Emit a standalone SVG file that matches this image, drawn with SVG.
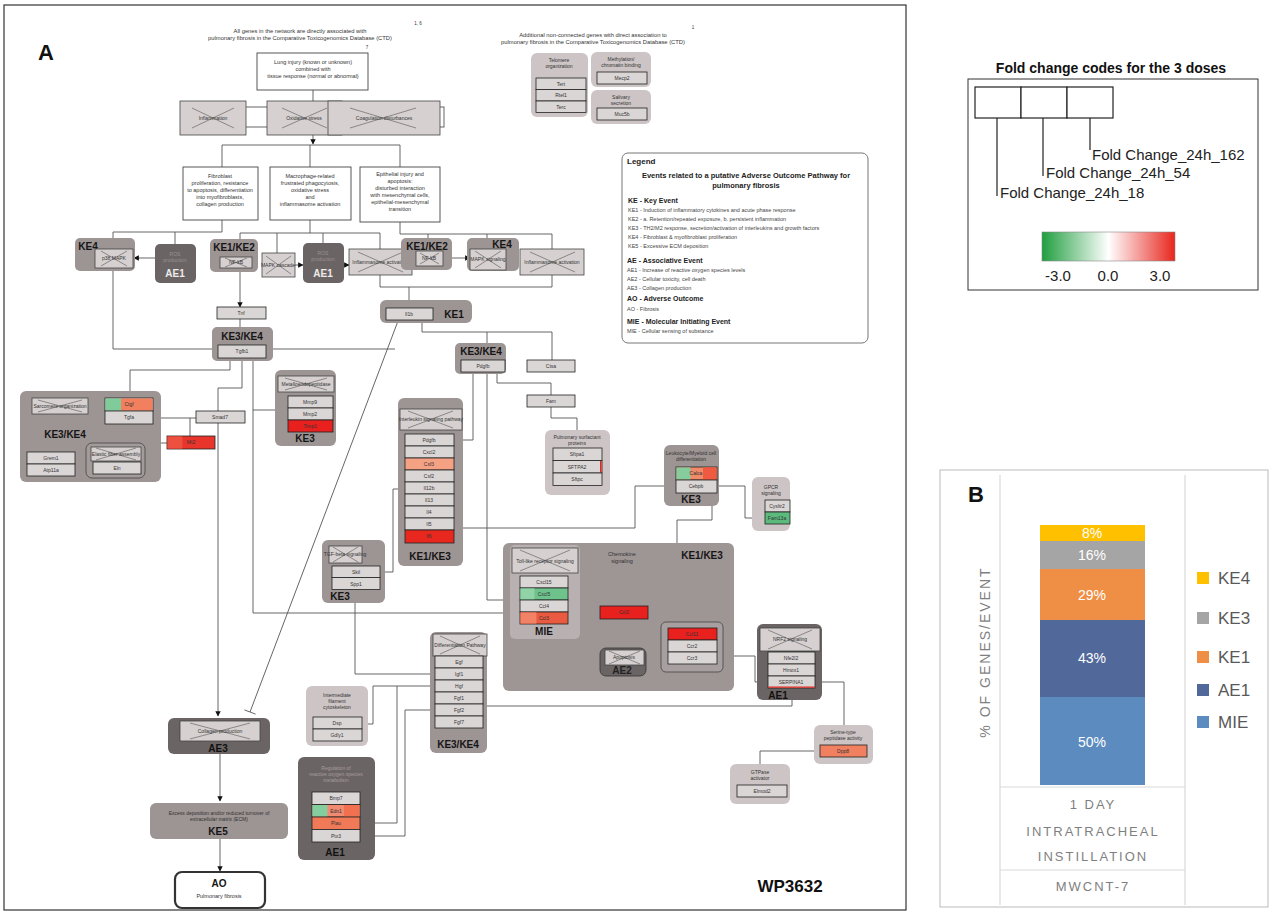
<svg xmlns="http://www.w3.org/2000/svg" width="1279" height="915" viewBox="0 0 1279 915">
<defs>
<marker id="arr" viewBox="0 0 10 10" refX="9" refY="5" markerWidth="6" markerHeight="6" orient="auto"><path d="M0,0 L10,5 L0,10 z" fill="#111"/></marker>
<linearGradient id="fc" x1="0" y1="0" x2="1" y2="0"><stop offset="0" stop-color="#1f9e3f"/><stop offset="0.5" stop-color="#ffffff"/><stop offset="1" stop-color="#e8261e"/></linearGradient>
<style>
.med{fill:#9d9494}
.dark{fill:#6b6464}
.light{fill:#cdc5c5}
.gb{fill:#dbd6d6;stroke:#222;stroke-width:0.8}
.xb{fill:#d6d0d0;stroke:#444;stroke-width:0.8}
.xx{stroke:#555;stroke-width:0.6;fill:none}
.wb{fill:#fff;stroke:#444;stroke-width:0.9}
.c{fill:none;stroke:#555;stroke-width:0.9}
.t{font-family:'Liberation Sans',Arial,sans-serif;font-size:5px;fill:#333;text-anchor:middle}
.tl{font-family:'Liberation Sans',Arial,sans-serif;font-size:5.5px;fill:#333;text-anchor:middle}
.tg{font-family:'Liberation Sans',Arial,sans-serif;font-size:5px;fill:#9a9090;text-anchor:middle}
.k{font-family:'Liberation Sans',Arial,sans-serif;font-size:10px;font-weight:bold;fill:#151515;text-anchor:middle}
.kw{font-family:'Liberation Sans',Arial,sans-serif;font-size:10px;font-weight:bold;fill:#eeeaea;text-anchor:middle}
.lg{font-family:'Liberation Sans',Arial,sans-serif;font-size:5.5px;fill:#444}
.lh{font-family:'Liberation Sans',Arial,sans-serif;font-size:7px;font-weight:bold;fill:#222}
.b{font-family:'Liberation Sans',Arial,sans-serif;fill:#7f7f7f;letter-spacing:2px;text-anchor:middle}
.fc{font-family:'Liberation Sans',Arial,sans-serif;font-size:15px;fill:#222}
</style>
</defs>
<rect width="1279" height="915" fill="#fff"/>
<rect x="4" y="5" width="902" height="905" fill="none" stroke="#333" stroke-width="1.2"/>
<text x="38" y="60" font-family="'Liberation Sans',Arial,sans-serif" font-size="22" font-weight="bold" fill="#111">A</text>

<!-- headers -->
<g id="header-ctd">
<text class="tl" x="300" y="33" style="font-size:5.8px">All genes in the network are directly associated with</text>
<text class="tl" x="300" y="40" style="font-size:5.8px">pulmonary fibrosis in the Comparative Toxicogenomics Database (CTD)</text>
<text class="tl" x="418" y="25" style="font-size:4.5px">1, 6</text>
</g>
<g id="header-additional">
<text class="tl" x="593" y="37" style="font-size:5.8px">Additional non-connected genes with direct association to</text>
<text class="tl" x="593" y="44" style="font-size:5.8px">pulmonary fibrosis in the Comparative Toxicogenomics Database (CTD)</text>
<text class="tl" x="693" y="29" style="font-size:4.5px">1</text>
</g>

<!-- connectors -->
<g id="connectors">
<rect x="240" y="107" width="204" height="20" class="c"/>
<path class="c" d="M313,90 V101"/>
<path class="c" d="M313,135 V144" marker-end="url(#arr)"/>
<path class="c" d="M222,145 H400 M222,145 V167 M310,145 V167 M400,145 V167"/>
<path class="c" d="M222,220 V232 M113,232 H222 M113,232 V238 M175,232 V244"/>
<path class="c" d="M310,220 V233 M240,233 H380 M240,233 V239 M277,233 V253 M323,233 V243"/>
<path class="c" d="M400,222 V234 M380,233 V287 H552 V234 H400 M428,234 V238 M487,234 V238 M409,287 V308"/>
<path class="c" d="M155,258 H134" marker-end="url(#arr)"/>
<path class="c" d="M295,265 H303" marker-end="url(#arr)"/>
<path class="c" d="M344,265 H349" marker-end="url(#arr)"/>
<path class="c" d="M442,258 H470" marker-end="url(#arr)"/>
<path class="c" d="M240,272 V307" marker-end="url(#arr)"/>
<path class="c" d="M240,318 V345"/>
<path class="c" d="M113,271 V349 H218 M266,349 H395"/>
<path class="c" d="M230,358 V370 H130 V398"/>
<path class="c" d="M242,358 V388 H218 V716" marker-end="url(#arr)"/>
<path class="c" d="M253,358 V613 H515 M253,410 H275"/>
<path class="c" d="M153,418 H196 M190,418 V437"/>
<path class="c" d="M167,443 H155 V459"/>
<path class="c" d="M50,452 V418 H105"/>
<path class="c" d="M398,321 L250,712 M244.4,709.9 L255.6,714.1"/>
<path class="c" d="M422,320 V332 H552 V360 M487,332 V343"/>
<path class="c" d="M497,372 V383 H551 V395 M551,407 V418 H577 V430"/>
<path class="c" d="M454,440 H473 V374"/>
<path class="c" d="M405,489 H393 V572 H380"/>
<path class="c" d="M463,528 H635 V486 H676"/>
<path class="c" d="M487,374 V600 H520"/>
<path class="c" d="M717,486 H745 V518 H765"/>
<path class="c" d="M712,493 V520 H677 V543"/>
<path class="c" d="M568,588 H625 V606"/>
<path class="c" d="M625,619 V647 M617,647 H633" stroke-width="1.2"/>
<path class="c" d="M648,612 H692 V622"/>
<path class="c" d="M723,656 H755 V682 H768"/>
<path class="c" d="M815,682 H844 V725"/>
<path class="c" d="M792,688 V706 H483"/>
<path class="c" d="M820,751 H760 V766"/>
<path class="c" d="M355,590 V674 H435"/>
<path class="c" d="M435,686 H373 V724 H362"/>
<path class="c" d="M360,823 H397 V686"/>
<path class="c" d="M360,836 H405 V710 H435"/>
<path class="c" d="M220,754 V801" marker-end="url(#arr)"/>
<path class="c" d="M220,838 V871" marker-end="url(#arr)"/>
</g>

<!-- top boxes -->
<g id="lung-injury">
<rect x="257" y="53" width="111" height="37" class="wb"/>
<text class="tl" x="313" y="64">Lung injury (known or unknown)</text>
<text class="tl" x="313" y="71">combined with</text>
<text class="tl" x="313" y="78">tissue response (normal or abnormal)</text>
<text class="tl" x="367" y="49" style="font-size:4.5px">7</text>
</g>
<g id="inflammation"><rect x="180" y="101" width="66" height="34" class="xb" fill="#cfc9c9"/><path class="xx" d="M192,108 L234,128 M192,128 L234,108"/><text class="t" x="213" y="120">Inflammation</text></g>
<g id="oxidative-stress"><rect x="267" y="101" width="75" height="34" class="xb"/><path class="xx" d="M282,108 L327,128 M282,128 L327,108"/><text class="t" x="304" y="120">Oxidative stress</text></g>
<g id="coagulation"><rect x="328" y="101" width="112" height="34" class="xb"/><path class="xx" d="M350,108 L416,128 M350,128 L416,108"/><text class="t" x="384" y="120">Coagulation disturbances</text></g>

<g id="fibroblast">
<rect x="183" y="167" width="75" height="53" class="wb"/>
<text class="tl" x="220" y="178">Fibroblast</text>
<text class="tl" x="220" y="185">proliferation, resistance</text>
<text class="tl" x="220" y="192">to apoptosis, differentiation</text>
<text class="tl" x="220" y="199">into myofibroblasts,</text>
<text class="tl" x="220" y="206">collagen production</text>
</g>
<g id="macrophage">
<rect x="270" y="167" width="81" height="53" class="wb"/>
<text class="tl" x="310" y="178">Macrophage-related</text>
<text class="tl" x="310" y="185">frustrated phagocytosis,</text>
<text class="tl" x="310" y="192">oxidative stress</text>
<text class="tl" x="310" y="199">and</text>
<text class="tl" x="310" y="206">inflammasome activation</text>
</g>
<g id="epithelial">
<rect x="360" y="167" width="80" height="55" class="wb"/>
<text class="tl" x="400" y="176">Epithelial injury and</text>
<text class="tl" x="400" y="183">apoptosis:</text>
<text class="tl" x="400" y="190">disturbed interaction</text>
<text class="tl" x="400" y="197">with mesenchymal cells,</text>
<text class="tl" x="400" y="204">epithelial-mesenchymal</text>
<text class="tl" x="400" y="211">transition</text>
</g>

<!-- row at y 240 -->
<g id="ke4-left"><rect x="75" y="238" width="60" height="33" rx="5" class="med"/><text class="k" x="88" y="250">KE4</text>
<rect x="95" y="249" width="38" height="19" class="xb"/><path class="xx" d="M101,251 L127,266 M101,266 L127,251"/><text class="t" x="114" y="260">p38 MAPK</text></g>
<g id="ae1-left"><rect x="155" y="244" width="41" height="39" rx="5" class="dark"/><text class="tg" x="175" y="256">ROS</text><text class="tg" x="175" y="262">production</text><text class="kw" x="175" y="277">AE1</text></g>
<g id="ke1ke2-left"><rect x="210" y="239" width="48" height="33" rx="5" class="med"/><text class="k" x="234" y="251">KE1/KE2</text>
<rect x="220" y="257" width="32" height="11" class="xb"/><path class="xx" d="M225,258 L247,267 M225,267 L247,258"/><text class="t" x="236" y="264">NF-kB</text></g>
<g id="mapk-cascade"><rect x="262" y="253" width="33" height="24" class="xb"/><path class="xx" d="M266,256 L291,274 M266,274 L291,256"/><text class="t" x="278" y="267">MAPK cascade</text></g>
<g id="ae1-mid"><rect x="303" y="243" width="41" height="40" rx="5" class="dark"/><text class="tg" x="323" y="255">ROS</text><text class="tg" x="323" y="261">production</text><text class="kw" x="323" y="277">AE1</text></g>
<g id="inflammasome-1"><rect x="349" y="249" width="63" height="26" class="xb"/><path class="xx" d="M358,252 L403,272 M358,272 L403,252"/><text class="t" x="380" y="264">Inflammasome activation</text></g>
<g id="ke1ke2-right"><rect x="401" y="238" width="51" height="32" rx="5" class="med"/><text class="k" x="427" y="250">KE1/KE2</text>
<rect x="416" y="251" width="27" height="15" class="xb"/><path class="xx" d="M420,253 L439,264 M420,264 L439,253"/><text class="t" x="429" y="260">NF-kB</text></g>
<g id="ke4-right"><rect x="467" y="238" width="52" height="33" rx="5" class="med"/><text class="k" x="502" y="248">KE4</text>
<rect x="470" y="249" width="36" height="21" class="xb"/><path class="xx" d="M475,251 L501,268 M475,268 L501,251"/><text class="t" x="488" y="261">MAPK signaling</text></g>
<g id="inflammasome-2"><rect x="520" y="249" width="64" height="26" class="xb"/><path class="xx" d="M530,252 L575,272 M530,272 L575,252"/><text class="t" x="552" y="264">Inflammasome activation</text></g>

<g id="tnf"><rect x="217" y="307" width="49" height="12" class="gb"/><text class="t" x="241" y="315">Tnf</text></g>
<g id="ke3ke4-tgfb1"><rect x="212" y="327" width="61" height="34" rx="5" class="med"/><text class="k" x="242" y="340">KE3/KE4</text>
<rect x="218" y="345" width="48" height="13" class="gb"/><text class="t" x="242" y="353">Tgfb1</text></g>
<g id="ke1-il1b"><rect x="380" y="300" width="92" height="23" rx="6" class="med"/><rect x="386" y="308" width="47" height="12" class="gb"/><text class="t" x="409" y="316">Il1b</text><text class="k" x="454" y="318">KE1</text></g>

<!-- left KE3/KE4 -->
<g id="ke3ke4-left"><rect x="20" y="391" width="141" height="91" rx="6" class="med"/>
<rect x="32" y="398" width="56" height="16" class="xb"/><path class="xx" d="M38,400 L82,412 M38,412 L82,400"/><text class="t" x="60" y="408">Sarcomere organization</text>
<text class="k" x="65" y="438">KE3/KE4</text>
<rect x="105" y="398" width="48" height="13" class="gb"/><rect x="105.4" y="398.4" width="16" height="12.2" fill="#7fcb9a"/><rect x="121" y="398.4" width="31.6" height="12.2" fill="#f2805f"/><text class="t" x="129" y="406">Ctgf</text>
<rect x="105" y="411" width="48" height="13" class="gb"/><text class="t" x="129" y="419">Tgfa</text>
<rect x="27" y="452" width="48" height="12" class="gb"/><text class="t" x="51" y="460">Grem1</text>
<rect x="27" y="464" width="48" height="12" class="gb"/><text class="t" x="51" y="472">Atp11a</text>
<rect x="86" y="443" width="59" height="35" rx="6" fill="#a39a9a" stroke="#444" stroke-width="0.8"/>
<rect x="91" y="447" width="50" height="14" class="xb"/><path class="xx" d="M96,448 L136,460 M96,460 L136,448"/><text class="t" x="116" y="456">Elastic fiber assembly</text>
<rect x="93" y="462" width="48" height="12" class="gb"/><text class="t" x="117" y="470">Eln</text>
</g>
<g id="smad7"><rect x="196" y="411" width="49" height="12" class="gb"/><text class="t" x="220" y="419">Smad7</text></g>
<g id="mt2"><rect x="167" y="436" width="48" height="13" fill="#e8342a" stroke="#222" stroke-width="0.8"/><rect x="167.4" y="436.4" width="15" height="12.2" fill="#ee5040"/><text class="t" x="191" y="444">Mt2</text></g>

<g id="ke3-mmp"><rect x="275" y="370" width="61" height="76" rx="6" class="med"/>
<rect x="278" y="376" width="56" height="16" class="xb"/><path class="xx" d="M285,378 L327,390 M285,390 L327,378"/><text class="t" x="306" y="386">Metalloendopeptidase</text>
<rect x="288" y="396" width="45" height="12" class="gb"/><text class="t" x="310" y="404">Mmp9</text>
<rect x="288" y="408" width="45" height="12" class="gb"/><text class="t" x="310" y="416">Mmp2</text>
<rect x="288" y="420" width="45" height="12" fill="#e8201e" stroke="#222" stroke-width="0.8"/><text class="t" x="310" y="428">Timp1</text>
<text class="k" x="305" y="442">KE3</text></g>

<!-- Pdgfb area -->
<g id="ke3ke4-pdgfb"><rect x="455" y="343" width="51" height="31" rx="5" class="med"/><text class="k" x="481" y="355">KE3/KE4</text>
<rect x="461" y="360" width="44" height="12" class="gb"/><text class="t" x="483" y="368">Pdgfb</text></g>
<g id="ctsa"><rect x="527" y="360" width="48" height="12" class="gb"/><text class="t" x="551" y="368">Ctsa</text></g>
<g id="fam"><rect x="527" y="395" width="48" height="12" class="gb"/><text class="t" x="551" y="403">Fam</text></g>
<g id="surfactant"><rect x="545" y="430" width="65" height="65" rx="6" class="light"/>
<text class="t" x="577" y="439">Pulmonary surfactant</text><text class="t" x="577" y="445">proteins</text>
<rect x="553" y="448" width="49" height="12.5" class="gb"/><text class="t" x="577" y="456">Sftpa1</text>
<rect x="553" y="460.5" width="49" height="12.5" class="gb"/><rect x="600" y="461" width="1.5" height="11.5" fill="#e8261e"/><text class="t" x="577" y="469">SFTPA2</text>
<rect x="553" y="473" width="49" height="12.5" class="gb"/><text class="t" x="577" y="481">Sftpc</text></g>

<g id="ke1ke3-column"><rect x="398" y="398" width="65" height="168" rx="6" class="med"/>
<rect x="400" y="409" width="62" height="21" class="xb"/><path class="xx" d="M408,411 L453,428 M408,428 L453,411"/><text class="t" x="431" y="421">Interleukin signaling pathway</text>
<rect x="405" y="434" width="49" height="12" class="gb"/><text class="t" x="429" y="442">Pdgfb</text>
<rect x="405" y="446" width="49" height="12" class="gb"/><text class="t" x="429" y="454">Cxcl2</text>
<rect x="405" y="458" width="49" height="12" fill="#f5a184" stroke="#222" stroke-width="0.8"/><text class="t" x="429" y="466">Csf3</text>
<rect x="405" y="470" width="49" height="12" class="gb"/><text class="t" x="429" y="478">Csf2</text>
<rect x="405" y="482" width="49" height="12" class="gb"/><text class="t" x="429" y="490">Il12b</text>
<rect x="405" y="494" width="49" height="12" class="gb"/><text class="t" x="429" y="502">Il13</text>
<rect x="405" y="506" width="49" height="12" class="gb"/><text class="t" x="429" y="514">Il4</text>
<rect x="405" y="518" width="49" height="12" class="gb"/><text class="t" x="429" y="526">Il5</text>
<rect x="405" y="530" width="49" height="13" fill="#e8281f" stroke="#222" stroke-width="0.8"/><text class="t" x="429" y="538">Il6</text>
<text class="k" x="430" y="560">KE1/KE3</text></g>

<!-- leukocyte -->
<g id="leukocyte"><rect x="664" y="445" width="55" height="61" rx="6" class="med"/>
<text class="t" x="691" y="455">Leukocyte/Myeloid cell</text><text class="t" x="691" y="461">differentiation</text>
<rect x="676" y="467" width="41" height="13" fill="#f08a68" stroke="#222" stroke-width="0.8"/><rect x="676.4" y="467.4" width="14" height="12.2" fill="#86cc9c"/><rect x="703" y="467.4" width="13.6" height="12.2" fill="#f05a40"/><text class="t" x="696" y="475">Calca</text>
<rect x="676" y="480" width="41" height="13" class="gb"/><text class="t" x="696" y="488">Cebpb</text>
<text class="k" x="691" y="503">KE3</text></g>
<g id="gpcr"><rect x="752" y="477" width="38" height="54" rx="6" class="light"/>
<text class="t" x="771" y="489">GPCR</text><text class="t" x="771" y="495">signaling</text>
<rect x="765" y="500" width="25" height="12" class="gb"/><text class="t" x="777" y="508">Cysltr2</text>
<rect x="765" y="512" width="25" height="12" fill="#5cbb7c" stroke="#222" stroke-width="0.8"/><text class="t" x="777" y="520">Fam13a</text></g>

<!-- chemokine -->
<g id="chemokine"><rect x="503" y="543" width="231" height="148" rx="6" fill="#9e9595"/>
<text class="t" x="622" y="556" style="font-size:5.5px">Chemokine</text><text class="t" x="622" y="563" style="font-size:5.5px">signaling</text>
<text class="k" x="702" y="559">KE1/KE3</text>
<g id="mie"><rect x="510" y="545" width="70" height="94" rx="5" fill="#b9b1b1"/>
<rect x="512" y="548" width="66" height="25" class="xb"/><path class="xx" d="M520,550 L570,571 M520,571 L570,550"/><text class="t" x="545" y="563">Toll-like receptor signaling</text>
<rect x="520" y="576" width="48" height="12" class="gb"/><text class="t" x="544" y="584">Cxcl15</text>
<rect x="520" y="588" width="48" height="12" fill="#6ec38c" stroke="#222" stroke-width="0.8"/><rect x="520.4" y="588.4" width="14" height="11.2" fill="#8fd3a6"/><text class="t" x="544" y="596">Cxcl5</text>
<rect x="520" y="600" width="48" height="12" class="gb"/><text class="t" x="544" y="608">Ccl4</text>
<rect x="520" y="612" width="48" height="12" fill="#ea5a40" stroke="#222" stroke-width="0.8"/><rect x="520.4" y="612.4" width="16" height="11.2" fill="#f28266"/><text class="t" x="544" y="620">Ccl3</text>
<text class="k" x="544" y="635">MIE</text></g>
<rect x="600" y="606" width="48" height="13" fill="#e8201e" stroke="#222" stroke-width="0.8"/><text class="t" x="624" y="614">Ccl2</text>
<g id="ae2"><rect x="600" y="648" width="46" height="28" rx="6" class="dark" stroke="#333" stroke-width="0.8"/>
<rect x="605" y="650" width="39" height="15" class="xb"/><path class="xx" d="M609,651 L640,664 M609,664 L640,651"/><text class="t" x="624" y="659">Apoptosis</text>
<text class="kw" x="622" y="674" style="fill:#222">AE2</text></g>
<g id="ccl11-group"><rect x="661" y="622" width="62" height="50" rx="5" fill="#a8a0a0" stroke="#444" stroke-width="0.8"/>
<rect x="668" y="628" width="49" height="12" fill="#e8201e" stroke="#222" stroke-width="0.8"/><text class="t" x="692" y="636">Ccl11</text>
<rect x="668" y="640" width="49" height="12" class="gb"/><text class="t" x="692" y="648">Ccr2</text>
<rect x="668" y="652" width="49" height="12" class="gb"/><text class="t" x="692" y="660">Ccr3</text></g>
</g>

<g id="nrf2-ae1"><rect x="757" y="624" width="65" height="76" rx="6" class="dark"/>
<rect x="760" y="628" width="60" height="23" class="xb"/><path class="xx" d="M768,630 L812,649 M768,649 L812,630"/><text class="t" x="790" y="641">NRF2 signaling</text>
<rect x="768" y="652" width="47" height="12" class="gb"/><text class="t" x="791" y="660">Nfe2l2</text>
<rect x="768" y="664" width="47" height="12" class="gb"/><text class="t" x="791" y="672">Hmox1</text>
<rect x="768" y="676" width="47" height="12" class="gb"/><rect x="768.4" y="686.5" width="46.2" height="1.2" fill="#e8261e"/><text class="t" x="791" y="684">SERPINA1</text>
<text class="kw" x="778" y="699" style="fill:#111">AE1</text></g>

<g id="serine"><rect x="814" y="725" width="59" height="39" rx="6" class="light"/>
<text class="t" x="843" y="734">Serine-type</text><text class="t" x="843" y="740">peptidase activity</text>
<rect x="820" y="745" width="47" height="12" fill="#f08060" stroke="#222" stroke-width="0.8"/><text class="t" x="843" y="753">Dpp8</text></g>
<g id="gtpase"><rect x="730" y="764" width="60" height="40" rx="6" class="light"/>
<text class="t" x="760" y="774">GTPase</text><text class="t" x="760" y="780">activator</text>
<rect x="737" y="785" width="50" height="12" class="gb"/><text class="t" x="762" y="793">Elmod2</text></g>

<g id="ke3-skil"><rect x="322" y="540" width="63" height="63" rx="6" class="med"/>
<rect x="329" y="546" width="33" height="17" class="xb"/><path class="xx" d="M333,547 L358,562 M333,562 L358,547"/><text class="t" x="345" y="556">TGF-beta signaling</text>
<rect x="332" y="566" width="48" height="11.5" class="gb"/><text class="t" x="356" y="574">Skil</text>
<rect x="332" y="577.5" width="48" height="12" class="gb"/><text class="t" x="356" y="586">Spp1</text>
<text class="k" x="340" y="600">KE3</text></g>

<g id="differentiation"><rect x="430" y="632" width="57" height="121" rx="6" class="med"/>
<rect x="433" y="634" width="54" height="22" class="xb"/><path class="xx" d="M440,636 L480,654 M440,654 L480,636"/><text class="t" x="460" y="647">Differentiation Pathway</text>
<rect x="435" y="656" width="48" height="12" class="gb"/><text class="t" x="459" y="664">Egf</text>
<rect x="435" y="668" width="48" height="12" class="gb"/><text class="t" x="459" y="676">Igf1</text>
<rect x="435" y="680" width="48" height="12" class="gb"/><text class="t" x="459" y="688">Hgf</text>
<rect x="435" y="692" width="48" height="12" class="gb"/><text class="t" x="459" y="700">Fgf1</text>
<rect x="435" y="704" width="48" height="12" class="gb"/><text class="t" x="459" y="712">Fgf2</text>
<rect x="435" y="716" width="48" height="12" class="gb"/><text class="t" x="459" y="724">Fgf7</text>
<text class="k" x="458" y="748">KE3/KE4</text></g>

<g id="intermediate"><rect x="306" y="686" width="62" height="60" rx="6" class="light"/>
<text class="t" x="337" y="697">Intermediate</text><text class="t" x="337" y="703">filament</text><text class="t" x="337" y="709">cytoskeleton</text>
<rect x="313" y="717" width="49" height="12" class="gb"/><text class="t" x="337" y="725">Dsp</text>
<rect x="313" y="729" width="49" height="12" class="gb"/><text class="t" x="337" y="737">Gdly1</text></g>

<g id="ros-ae1"><rect x="298" y="757" width="77" height="103" rx="6" class="dark"/>
<text class="tg" x="336" y="770" style="fill:#a59c9c">Regulation of</text><text class="tg" x="336" y="776" style="fill:#a59c9c">reactive oxygen species</text><text class="tg" x="336" y="782" style="fill:#a59c9c">metabolism</text>
<rect x="312" y="792" width="48" height="12.5" class="gb"/><text class="t" x="336" y="800">Bmp7</text>
<rect x="312" y="804.5" width="48" height="12.5" fill="#f08a70" stroke="#222" stroke-width="0.8"/><rect x="312.4" y="805" width="15" height="11.6" fill="#84cd9e"/><rect x="344" y="805" width="15.6" height="11.6" fill="#f07050"/><text class="t" x="336" y="813">Edn1</text>
<rect x="312" y="817" width="48" height="12.5" fill="#f07a58" stroke="#222" stroke-width="0.8"/><text class="t" x="336" y="825">Plau</text>
<rect x="312" y="829.5" width="48" height="12.5" class="gb"/><text class="t" x="336" y="838">Ptx3</text>
<text class="kw" x="335" y="856" style="fill:#111">AE1</text></g>

<g id="ae3"><rect x="168" y="718" width="102" height="36" rx="6" class="dark"/>
<rect x="180" y="721" width="80" height="20" class="xb"/><path class="xx" d="M190,723 L250,739 M190,739 L250,723"/><text class="t" x="220" y="733">Collagen production</text>
<text class="kw" x="218" y="752" style="fill:#111">AE3</text></g>
<g id="ke5"><rect x="150" y="803" width="138" height="36" rx="6" class="med"/>
<text class="t" x="219" y="815">Excess deposition and/or reduced turnover of</text>
<text class="t" x="219" y="821">extracellular matrix (ECM)</text>
<text class="k" x="218" y="835">KE5</text></g>
<g id="ao"><rect x="175" y="872" width="90" height="36" rx="7" fill="#fff" stroke="#333" stroke-width="2.2"/>
<text class="k" x="219" y="887">AO</text><text class="t" x="219" y="898" style="font-size:5.5px">Pulmonary fibrosis</text></g>

<!-- additional genes -->
<g id="telomere"><rect x="531" y="53" width="57" height="64" rx="6" class="light"/>
<text class="t" x="559" y="62">Telomere</text><text class="t" x="559" y="68">organization</text>
<rect x="536" y="78" width="50" height="11.5" class="gb"/><text class="t" x="561" y="86">Tert</text>
<rect x="536" y="89.5" width="50" height="11.5" class="gb"/><text class="t" x="561" y="97">Rtel1</text>
<rect x="536" y="101" width="50" height="11.5" class="gb"/><text class="t" x="561" y="109">Terc</text></g>
<g id="methylation"><rect x="591" y="52" width="60" height="35" rx="6" class="light"/>
<text class="t" x="621" y="61">Methylation/</text><text class="t" x="621" y="67">chromatin binding</text>
<rect x="597" y="72" width="50" height="12" class="gb"/><text class="t" x="622" y="80">Mecp2</text></g>
<g id="salivary"><rect x="591" y="90" width="60" height="34" rx="6" class="light"/>
<text class="t" x="621" y="99">Salivary</text><text class="t" x="621" y="105">secretion</text>
<rect x="597" y="108" width="50" height="12" class="gb"/><text class="t" x="622" y="116">Muc5b</text></g>

<!-- legend -->
<g id="legend"><rect x="622" y="153" width="246" height="190" rx="6" fill="#fff" stroke="#777" stroke-width="1"/>
<text class="lh" x="627" y="164" style="font-size:8px">Legend</text>
<text class="lh" x="746" y="178" text-anchor="middle" style="font-size:7.5px">Events related to a putative Adverse Outcome Pathway for</text>
<text class="lh" x="746" y="188" text-anchor="middle" style="font-size:7.5px">pulmonary fibrosis</text>
<text class="lh" x="628" y="203">KE - Key Event</text>
<text class="lg" x="628" y="212">KE1 - Induction of inflammatory cytokines and acute phase response</text>
<text class="lg" x="628" y="221">KE2 - a. Retention/repeated exposure, b. persistent inflammation</text>
<text class="lg" x="628" y="230">KE3 - TH2/M2 response, secretion/activation of interleukins and growth factors</text>
<text class="lg" x="628" y="239">KE4 - Fibroblast &amp; myofibroblast proliferation</text>
<text class="lg" x="628" y="248">KE5 - Excessive ECM deposition</text>
<text class="lh" x="627" y="263">AE - Associative Event</text>
<text class="lg" x="627" y="272">AE1 - Increase of reactive oxygen species levels</text>
<text class="lg" x="627" y="281">AE2 - Cellular toxicity, cell death</text>
<text class="lg" x="627" y="290">AE3 - Collagen production</text>
<text class="lh" x="627" y="301">AO - Adverse Outcome</text>
<text class="lg" x="627" y="311">AO - Fibrosis</text>
<text class="lh" x="627" y="324">MIE - Molecular Initiating Event</text>
<text class="lg" x="627" y="333">MIE - Cellular sensing of substance</text></g>

<text x="790" y="892" font-family="'Liberation Sans',Arial,sans-serif" font-size="17" font-weight="bold" fill="#111" text-anchor="middle">WP3632</text>

<!-- fold change legend -->
<g id="fold-change-legend">
<text x="1111" y="73" font-family="'Liberation Sans',Arial,sans-serif" font-size="14" font-weight="bold" fill="#111" text-anchor="middle">Fold change codes for the 3 doses</text>
<rect x="968" y="79" width="290" height="211" fill="#fff" stroke="#333" stroke-width="1"/>
<rect x="975" y="87" width="46" height="31" fill="#fff" stroke="#222" stroke-width="1.2"/>
<rect x="1021" y="87" width="46" height="31" fill="#fff" stroke="#222" stroke-width="1.2"/>
<rect x="1067" y="87" width="46" height="31" fill="#fff" stroke="#222" stroke-width="1.2"/>
<path d="M997,118 V196 M1043,118 V176 M1090,118 V150" stroke="#222" stroke-width="1.2" fill="none"/>
<text class="fc" x="1092" y="160">Fold Change_24h_162</text>
<text class="fc" x="1046" y="178">Fold Change_24h_54</text>
<text class="fc" x="1000" y="198">Fold Change_24h_18</text>
<rect x="1042" y="232" width="133" height="29" fill="url(#fc)" stroke="#888" stroke-width="0.6"/>
<text class="fc" x="1058" y="281" text-anchor="middle">-3.0</text>
<text class="fc" x="1108" y="281" text-anchor="middle">0.0</text>
<text class="fc" x="1160" y="281" text-anchor="middle">3.0</text>
</g>

<!-- panel B -->
<g id="panel-b">
<rect x="940" y="470" width="328" height="437" fill="#fff" stroke="#bbb" stroke-width="1"/>
<text x="968" y="502" font-family="'Liberation Sans',Arial,sans-serif" font-size="22" font-weight="bold" fill="#111">B</text>
<path d="M1000,475 V905 M1185,475 V905 M1000,787 H1185 M1000,870 H1185" stroke="#d9d9d9" stroke-width="1.2" fill="none"/>
<rect x="1040" y="525" width="105" height="16" fill="#ffc000"/>
<rect x="1040" y="541" width="105" height="28" fill="#a5a5a5"/>
<rect x="1040" y="569" width="105" height="51" fill="#ef8f45"/>
<rect x="1040" y="620" width="105" height="77" fill="#50699a"/>
<rect x="1040" y="697" width="105" height="88" fill="#5c8bc0"/>
<g font-family="'Liberation Sans',Arial,sans-serif" font-size="14" fill="#fff" text-anchor="middle">
<text x="1092" y="538">8%</text><text x="1092" y="560">16%</text><text x="1092" y="600">29%</text><text x="1092" y="663">43%</text><text x="1092" y="747">50%</text></g>
<text class="b" x="0" y="0" font-size="14" transform="translate(990,652) rotate(-90)">% OF GENES/EVENT</text>
<text class="b" x="1093" y="809" font-size="13">1 DAY</text>
<text class="b" x="1093" y="836" font-size="13">INTRATRACHEAL</text>
<text class="b" x="1093" y="861" font-size="13">INSTILLATION</text>
<text class="b" x="1093" y="891" font-size="13">MWCNT-7</text>
<rect x="1197" y="572" width="12" height="12" fill="#ffc000"/>
<rect x="1197" y="612" width="12" height="12" fill="#a5a5a5"/>
<rect x="1197" y="651" width="12" height="12" fill="#ef8f45"/>
<rect x="1197" y="684" width="12" height="12" fill="#50699a"/>
<rect x="1197" y="716" width="12" height="12" fill="#5c8bc0"/>
<g font-family="'Liberation Sans',Arial,sans-serif" font-size="17" fill="#595959">
<text x="1218" y="584">KE4</text><text x="1218" y="624">KE3</text><text x="1218" y="663">KE1</text><text x="1218" y="696">AE1</text><text x="1218" y="728">MIE</text></g>
</g>
</svg>
